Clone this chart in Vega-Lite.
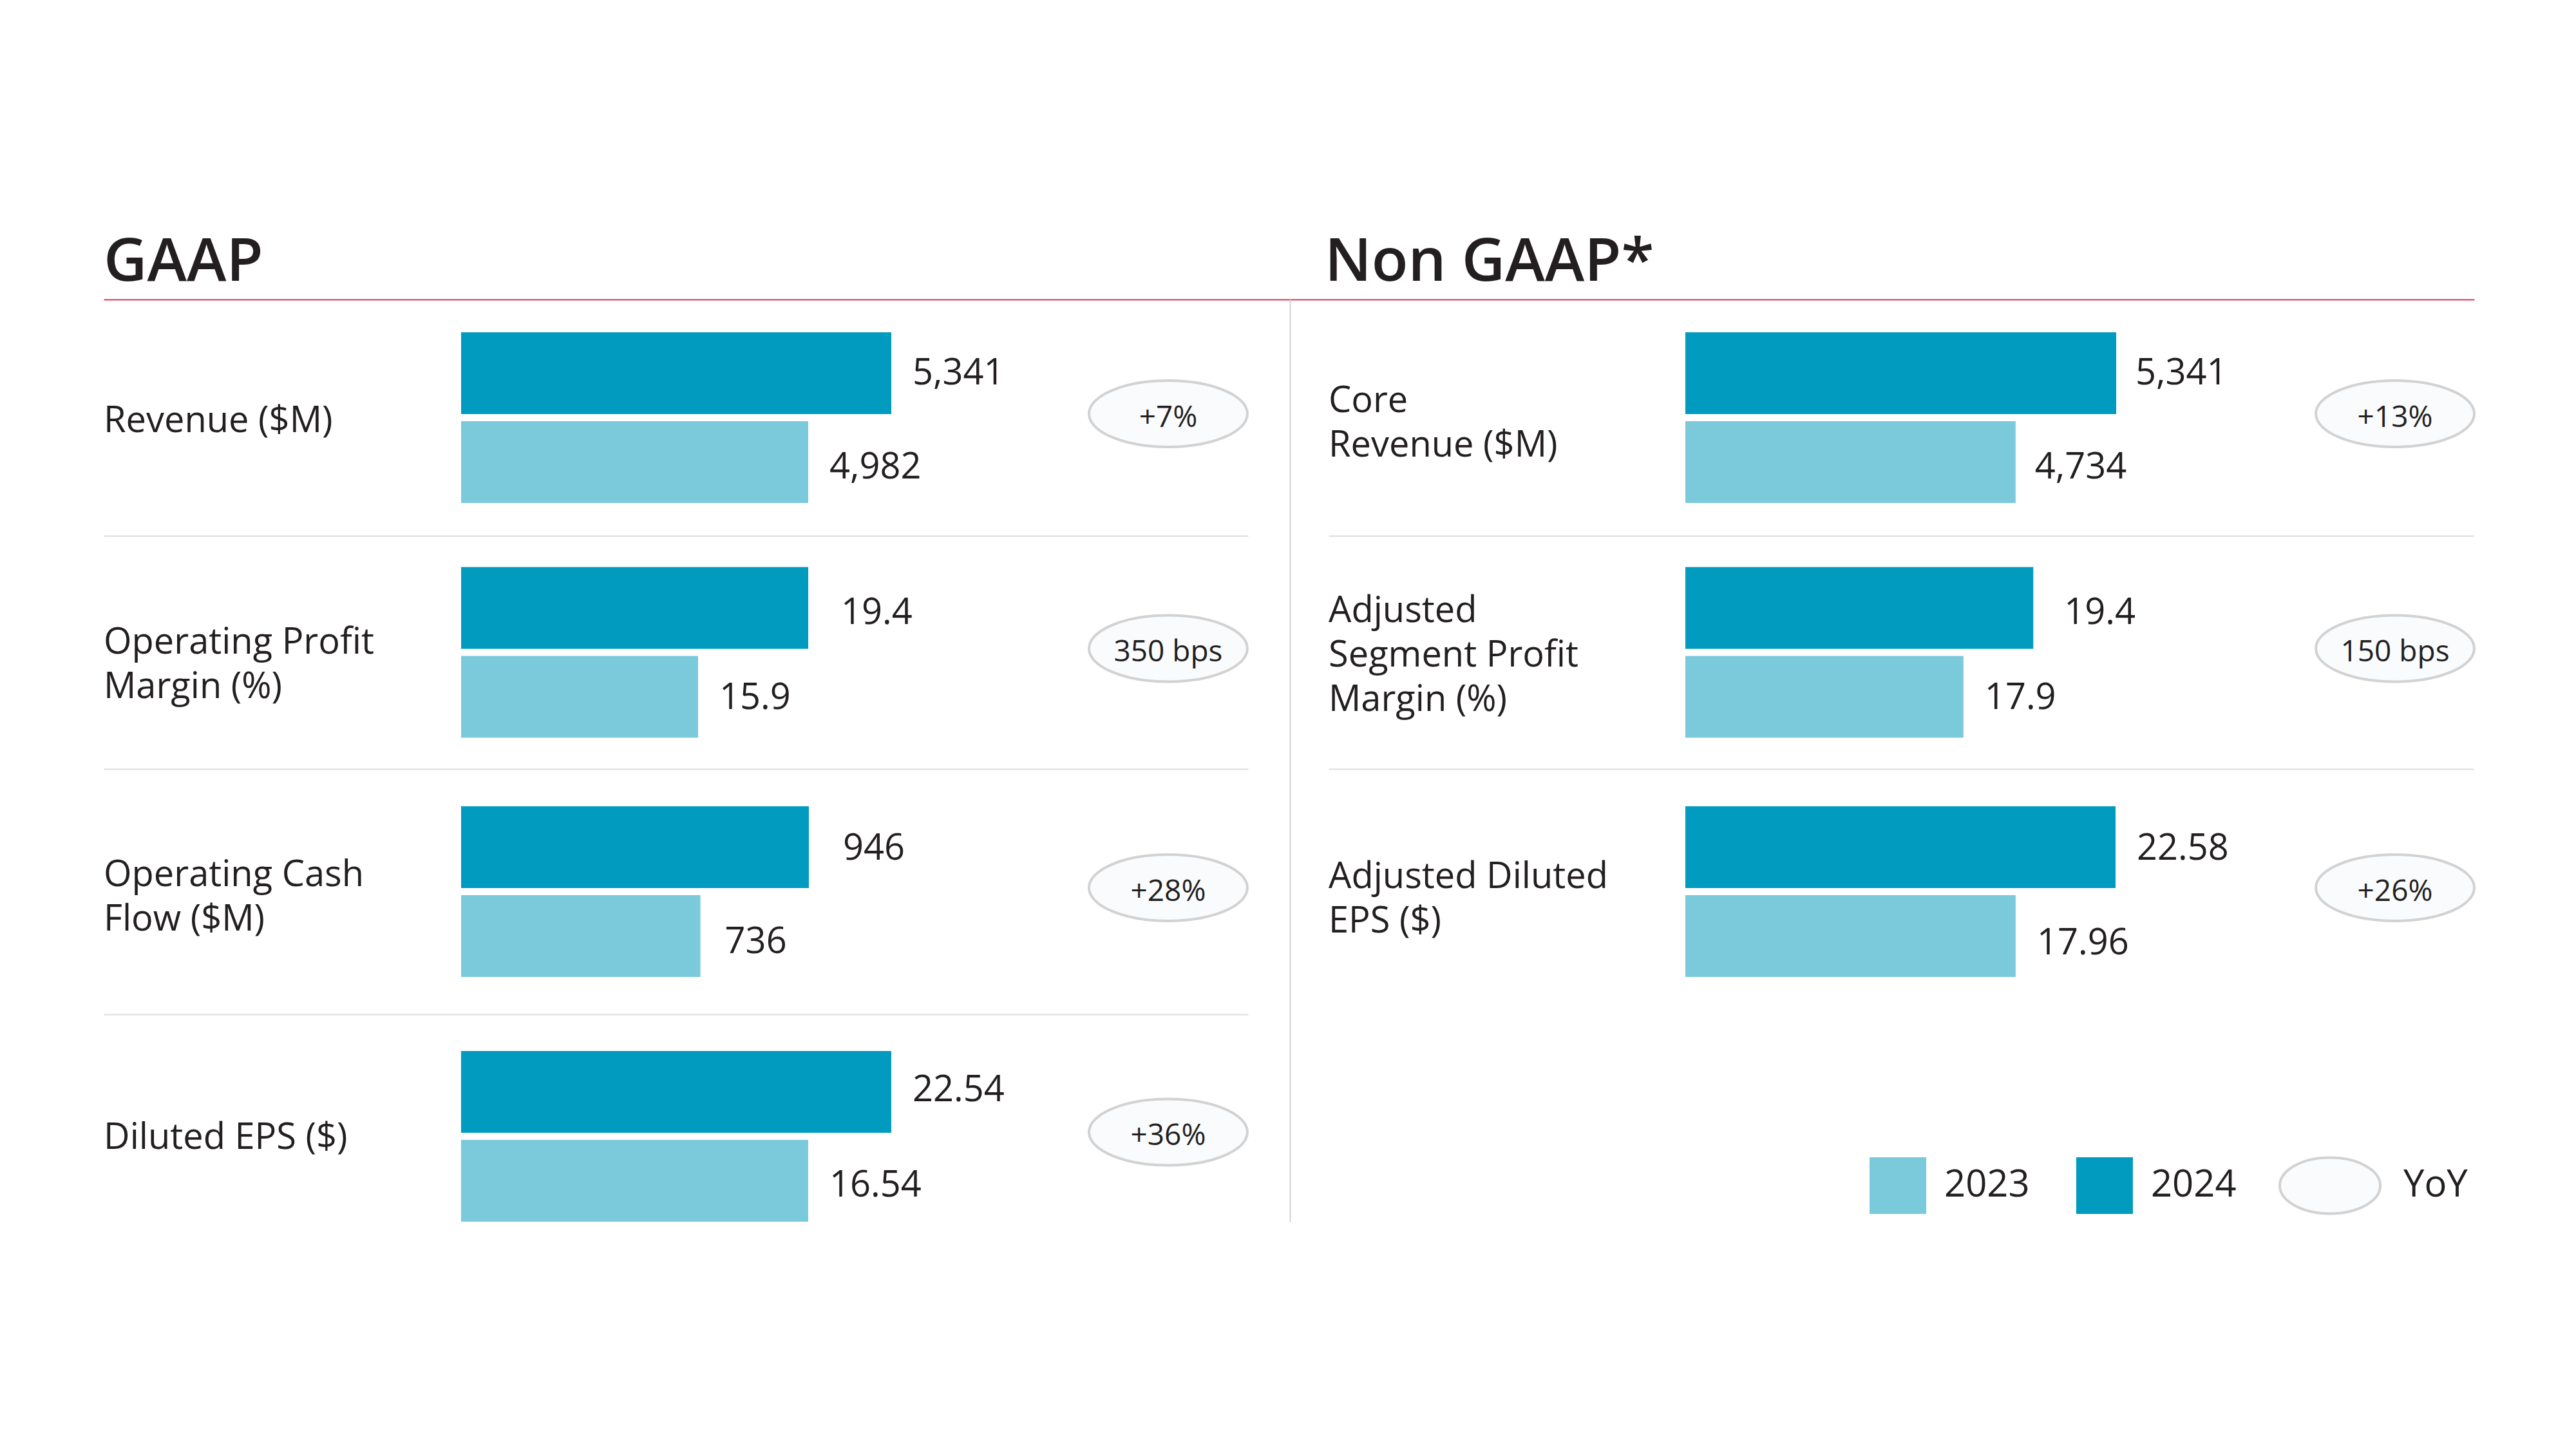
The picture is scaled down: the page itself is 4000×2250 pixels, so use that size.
{
  "$schema": "https://vega.github.io/schema/vega-lite/v6.json",
  "background": "white",
  "padding": {"left": 161, "top": 362, "right": 0, "bottom": 0},
  "config": {
    "view": {"stroke": null},
    "font": "Open Sans",
    "text": {"color": "#231F20", "font": "Open Sans"},
    "legend": {"disable": true}
  },
  "datasets": {
    "titles": [
      {"panel": "GAAP", "title": "GAAP"},
      {"panel": "Non GAAP", "title": "Non GAAP*"}
    ],
    "bars": [
      {"metric": "rev", "year": "2024", "value": 5341},
      {"metric": "rev", "year": "2023", "value": 4982},
      {"metric": "opm", "year": "2024", "value": 19.4},
      {"metric": "opm", "year": "2023", "value": 15.9},
      {"metric": "ocf", "year": "2024", "value": 946},
      {"metric": "ocf", "year": "2023", "value": 736},
      {"metric": "eps", "year": "2024", "value": 22.54},
      {"metric": "eps", "year": "2023", "value": 16.54},
      {"metric": "corerev", "year": "2024", "value": 5341},
      {"metric": "corerev", "year": "2023", "value": 4734},
      {"metric": "asm", "year": "2024", "value": 19.4},
      {"metric": "asm", "year": "2023", "value": 17.9},
      {"metric": "adeps", "year": "2024", "value": 22.58},
      {"metric": "adeps", "year": "2023", "value": 17.96}
    ],
    "metrics": [
      {"metric": "rev", "panel": "GAAP", "label": "Revenue ($M)", "yoy": "+7%"},
      {"metric": "opm", "panel": "GAAP", "label": "Operating Profit\nMargin (%)", "yoy": "350 bps"},
      {"metric": "ocf", "panel": "GAAP", "label": "Operating Cash\nFlow ($M)", "yoy": "+28%"},
      {"metric": "eps", "panel": "GAAP", "label": "Diluted EPS ($)", "yoy": "+36%"},
      {"metric": "corerev", "panel": "Non GAAP", "label": "Core\nRevenue ($M)", "yoy": "+13%"},
      {"metric": "asm", "panel": "Non GAAP", "label": "Adjusted\nSegment Profit\nMargin (%)", "yoy": "150 bps"},
      {"metric": "adeps", "panel": "Non GAAP", "label": "Adjusted Diluted\nEPS ($)", "yoy": "+26%"}
    ],
    "legend": [
      {"item": "2023"},
      {"item": "2024"},
      {"item": "YoY"}
    ]
  },
  "spacing": 0,
  "vconcat": [
    {
      "width": 3681,
      "height": 58,
      "data": {"name": "titles"},
      "mark": {"type": "text", "align": "left", "baseline": "alphabetic", "fontSize": 93, "fontWeight": 600, "color": "#231F20"},
      "encoding": {
        "x": {"field": "panel", "type": "nominal", "bandPosition": 0,
              "scale": {"type": "band", "domain": ["GAAP", "Non GAAP"], "paddingInner": 0.0585, "paddingOuter": 0},
              "axis": {"orient": "bottom", "domain": true, "domainColor": "#DC3A55", "domainWidth": 2, "ticks": false, "labels": false, "title": null, "grid": false}},
        "text": {"field": "title", "type": "nominal"}
      }
    },
    {
      "spacing": 60,
      "resolve": {"scale": {"x": "independent", "y": "independent"}},
      "hconcat": [
        {
          "spacing": 0,
          "resolve": {"scale": {"x": "independent", "y": "independent"}},
          "vconcat": [
            {
              "width": 1777, "height": 367,
              "layer": [
                {"data": {"name": "bars"}, "transform": [{"filter": "datum.metric === 'rev'"}],
                 "encoding": {
                   "y": {"field": "year", "type": "nominal", "sort": ["2024", "2023"], "scale": {"paddingInner": 0.08, "paddingOuter": 0.37},
                         "axis": {"orient": "right", "offset": 65, "domain": true, "domainColor": "#D3D3D3", "domainWidth": 2, "ticks": false, "labels": false, "title": null, "grid": false}},
                   "x": {"field": "value", "type": "quantitative", "scale": {"domain": [1937.5, 6882.8], "nice": false, "zero": false}, "axis": null}
                 },
                 "layer": [
                   {"mark": {"type": "bar"}, "encoding": {"x2": {"datum": 3482}, "color": {"field": "year", "type": "nominal", "scale": {"domain": ["2023", "2024"], "range": ["#7BCADC", "#019BBF"]}, "legend": null}}},
                   {"mark": {"type": "text", "align": "left", "baseline": "middle", "dx": 33, "dy": {"expr": "datum.year === '2023' ? 9 : 0"}, "fontSize": 56}, "encoding": {"text": {"field": "value", "type": "quantitative", "format": ","}}}
                 ]},
                {"data": {"name": "metrics"}, "transform": [{"filter": "datum.metric === 'rev'"}],
                 "layer": [
                   {"mark": {"type": "text", "align": "left", "baseline": "middle", "fontSize": 56, "lineHeight": 69, "lineBreak": "\n", "dy": 5},
                    "encoding": {"x": {"datum": 0, "type": "quantitative", "scale": {"domain": [0, 1], "nice": false, "zero": false},
                                       "axis": {"orient": "bottom", "domain": true, "domainColor": "#DCDCDC", "domainWidth": 2, "ticks": false, "labels": false, "title": null, "grid": false}},
                                 "text": {"field": "label", "type": "nominal"}}},
                   {"mark": {"type": "point", "shape": "M-1,0A1,0.419,0,1,0,1,0A1,0.419,0,1,0,-1,0Z", "size": 60516, "filled": true, "fill": "#FAFBFD", "stroke": "#D2D2D2", "strokeWidth": 4, "opacity": 1, "yOffset": -6},
                    "encoding": {"x": {"datum": 0.9302, "type": "quantitative"}}},
                   {"mark": {"type": "text", "align": "center", "baseline": "middle", "fontSize": 46},
                    "encoding": {"x": {"datum": 0.9302, "type": "quantitative"}, "text": {"field": "yoy", "type": "nominal"}}}
                 ]}
              ],
              "resolve": {"scale": {"x": "independent"}, "axis": {"x": "independent"}}
            },
            {
              "width": 1777, "height": 362,
              "layer": [
                {"data": {"name": "bars"}, "transform": [{"filter": "datum.metric === 'opm'"}],
                 "encoding": {
                   "y": {"field": "year", "type": "nominal", "sort": ["2024", "2023"], "scale": {"paddingInner": 0.08, "paddingOuter": 0.352},
                         "axis": {"orient": "right", "offset": 65, "domain": true, "domainColor": "#D3D3D3", "domainWidth": 2, "ticks": false, "labels": false, "title": null, "grid": false}},
                   "x": {"field": "value", "type": "quantitative", "scale": {"domain": [-2.992, 33.379], "nice": false, "zero": false}, "axis": null}
                 },
                 "layer": [
                   {"mark": {"type": "bar"}, "encoding": {"x2": {"datum": 8.368}, "color": {"field": "year", "type": "nominal", "scale": {"domain": ["2023", "2024"], "range": ["#7BCADC", "#019BBF"]}, "legend": null}}},
                   {"mark": {"type": "text", "align": "left", "baseline": "middle", "dx": {"expr": "datum.year === '2024' ? 51 : 33"}, "dy": {"expr": "datum.year === '2023' ? 2 : 8"}, "fontSize": 56}, "encoding": {"text": {"field": "value", "type": "quantitative", "format": ".1f"}}}
                 ]},
                {"data": {"name": "metrics"}, "transform": [{"filter": "datum.metric === 'opm'"}],
                 "layer": [
                   {"mark": {"type": "text", "align": "left", "baseline": "middle", "fontSize": 56, "lineHeight": 69, "lineBreak": "\n", "dy": -15},
                    "encoding": {"x": {"datum": 0, "type": "quantitative", "scale": {"domain": [0, 1], "nice": false, "zero": false},
                                       "axis": {"orient": "bottom", "domain": true, "domainColor": "#DCDCDC", "domainWidth": 2, "ticks": false, "labels": false, "title": null, "grid": false}},
                                 "text": {"field": "label", "type": "nominal"}}},
                   {"mark": {"type": "point", "shape": "M-1,0A1,0.419,0,1,0,1,0A1,0.419,0,1,0,-1,0Z", "size": 60516, "filled": true, "fill": "#FAFBFD", "stroke": "#D2D2D2", "strokeWidth": 4, "opacity": 1, "yOffset": -6},
                    "encoding": {"x": {"datum": 0.9302, "type": "quantitative"}}},
                   {"mark": {"type": "text", "align": "center", "baseline": "middle", "fontSize": 46},
                    "encoding": {"x": {"datum": 0.9302, "type": "quantitative"}, "text": {"field": "yoy", "type": "nominal"}}}
                 ]}
              ],
              "resolve": {"scale": {"x": "independent"}, "axis": {"x": "independent"}}
            },
            {
              "width": 1777, "height": 381,
              "layer": [
                {"data": {"name": "bars"}, "transform": [{"filter": "datum.metric === 'ocf'"}],
                 "encoding": {
                   "y": {"field": "year", "type": "nominal", "sort": ["2024", "2023"], "scale": {"paddingInner": 0.08, "paddingOuter": 0.42},
                         "axis": {"orient": "right", "offset": 65, "domain": true, "domainColor": "#D3D3D3", "domainWidth": 2, "ticks": false, "labels": false, "title": null, "grid": false}},
                   "x": {"field": "value", "type": "quantitative", "scale": {"domain": [-419.5, 1796.5], "nice": false, "zero": false}, "axis": null}
                 },
                 "layer": [
                   {"mark": {"type": "bar"}, "encoding": {"x2": {"datum": 272.6}, "color": {"field": "year", "type": "nominal", "scale": {"domain": ["2023", "2024"], "range": ["#7BCADC", "#019BBF"]}, "legend": null}}},
                   {"mark": {"type": "text", "align": "left", "baseline": "middle", "dx": {"expr": "datum.year === '2024' ? 53 : 38"}, "dy": {"expr": "datum.year === '2023' ? 9 : 3"}, "fontSize": 56}, "encoding": {"text": {"field": "value", "type": "quantitative", "format": ","}}}
                 ]},
                {"data": {"name": "metrics"}, "transform": [{"filter": "datum.metric === 'ocf'"}],
                 "layer": [
                   {"mark": {"type": "text", "align": "left", "baseline": "middle", "fontSize": 56, "lineHeight": 69, "lineBreak": "\n", "dy": -26},
                    "encoding": {"x": {"datum": 0, "type": "quantitative", "scale": {"domain": [0, 1], "nice": false, "zero": false},
                                       "axis": {"orient": "bottom", "domain": true, "domainColor": "#DCDCDC", "domainWidth": 2, "ticks": false, "labels": false, "title": null, "grid": false}},
                                 "text": {"field": "label", "type": "nominal"}}},
                   {"mark": {"type": "point", "shape": "M-1,0A1,0.419,0,1,0,1,0A1,0.419,0,1,0,-1,0Z", "size": 60516, "filled": true, "fill": "#FAFBFD", "stroke": "#D2D2D2", "strokeWidth": 4, "opacity": 1, "yOffset": -6},
                    "encoding": {"x": {"datum": 0.9302, "type": "quantitative"}}},
                   {"mark": {"type": "text", "align": "center", "baseline": "middle", "fontSize": 46},
                    "encoding": {"x": {"datum": 0.9302, "type": "quantitative"}, "text": {"field": "yoy", "type": "nominal"}}}
                 ]}
              ],
              "resolve": {"scale": {"x": "independent"}, "axis": {"x": "independent"}}
            },
            {
              "width": 1777, "height": 322,
              "layer": [
                {"data": {"name": "bars"}, "transform": [{"filter": "datum.metric === 'eps'"}],
                 "encoding": {
                   "y": {"field": "year", "type": "nominal", "sort": ["2024", "2023"], "scale": {"paddingInner": 0.08, "paddingOuter": 0.207, "align": 1},
                         "axis": {"orient": "right", "offset": 65, "domain": true, "domainColor": "#D3D3D3", "domainWidth": 2, "ticks": false, "labels": false, "title": null, "grid": false}},
                   "x": {"field": "value", "type": "quantitative", "scale": {"domain": [-34.34, 48.31], "nice": false, "zero": false}, "axis": null}
                 },
                 "layer": [
                   {"mark": {"type": "bar"}, "encoding": {"x2": {"datum": -8.53}, "color": {"field": "year", "type": "nominal", "scale": {"domain": ["2023", "2024"], "range": ["#7BCADC", "#019BBF"]}, "legend": null}}},
                   {"mark": {"type": "text", "align": "left", "baseline": "middle", "dx": 33, "dy": {"expr": "datum.year === '2023' ? 7 : -3"}, "fontSize": 56}, "encoding": {"text": {"field": "value", "type": "quantitative", "format": ".2f"}}}
                 ]},
                {"data": {"name": "metrics"}, "transform": [{"filter": "datum.metric === 'eps'"}],
                 "layer": [
                   {"mark": {"type": "text", "align": "left", "baseline": "middle", "fontSize": 56, "lineHeight": 69, "lineBreak": "\n", "dy": 31},
                    "encoding": {"x": {"datum": 0, "type": "quantitative", "scale": {"domain": [0, 1], "nice": false, "zero": false}, "axis": null},
                                 "text": {"field": "label", "type": "nominal"}}},
                   {"mark": {"type": "point", "shape": "M-1,0A1,0.419,0,1,0,1,0A1,0.419,0,1,0,-1,0Z", "size": 60516, "filled": true, "fill": "#FAFBFD", "stroke": "#D2D2D2", "strokeWidth": 4, "opacity": 1, "yOffset": 22},
                    "encoding": {"x": {"datum": 0.9302, "type": "quantitative"}}},
                   {"mark": {"type": "text", "align": "center", "baseline": "middle", "fontSize": 46, "dy": 28},
                    "encoding": {"x": {"datum": 0.9302, "type": "quantitative"}, "text": {"field": "yoy", "type": "nominal"}}}
                 ]}
              ],
              "resolve": {"scale": {"x": "independent"}, "axis": {"x": "independent"}}
            }
          ]
        },
        {
          "spacing": 0,
          "resolve": {"scale": {"x": "independent", "y": "independent"}},
          "vconcat": [
            {
              "width": 1778, "height": 367,
              "layer": [
                {"data": {"name": "bars"}, "transform": [{"filter": "datum.metric === 'corerev'"}],
                 "encoding": {
                   "y": {"field": "year", "type": "nominal", "sort": ["2024", "2023"], "scale": {"paddingInner": 0.08, "paddingOuter": 0.37}, "axis": null},
                   "x": {"field": "value", "type": "quantitative", "scale": {"domain": [588.3, 7497.7], "nice": false, "zero": false}, "axis": null}
                 },
                 "layer": [
                   {"mark": {"type": "bar"}, "encoding": {"x2": {"datum": 2741.2}, "color": {"field": "year", "type": "nominal", "scale": {"domain": ["2023", "2024"], "range": ["#7BCADC", "#019BBF"]}, "legend": null}}},
                   {"mark": {"type": "text", "align": "left", "baseline": "middle", "dx": 30, "dy": {"expr": "datum.year === '2023' ? 9 : 0"}, "fontSize": 56}, "encoding": {"text": {"field": "value", "type": "quantitative", "format": ","}}}
                 ]},
                {"data": {"name": "metrics"}, "transform": [{"filter": "datum.metric === 'corerev'"}],
                 "layer": [
                   {"mark": {"type": "text", "align": "left", "baseline": "middle", "fontSize": 56, "lineHeight": 69, "lineBreak": "\n", "dy": -26},
                    "encoding": {"x": {"datum": 0, "type": "quantitative", "scale": {"domain": [0, 1], "nice": false, "zero": false},
                                       "axis": {"orient": "bottom", "domain": true, "domainColor": "#DCDCDC", "domainWidth": 2, "ticks": false, "labels": false, "title": null, "grid": false}},
                                 "text": {"field": "label", "type": "nominal"}}},
                   {"mark": {"type": "point", "shape": "M-1,0A1,0.419,0,1,0,1,0A1,0.419,0,1,0,-1,0Z", "size": 60516, "filled": true, "fill": "#FAFBFD", "stroke": "#D2D2D2", "strokeWidth": 4, "opacity": 1, "yOffset": -6},
                    "encoding": {"x": {"datum": 0.9314, "type": "quantitative"}}},
                   {"mark": {"type": "text", "align": "center", "baseline": "middle", "fontSize": 46},
                    "encoding": {"x": {"datum": 0.9314, "type": "quantitative"}, "text": {"field": "yoy", "type": "nominal"}}}
                 ]}
              ],
              "resolve": {"scale": {"x": "independent"}, "axis": {"x": "independent"}}
            },
            {
              "width": 1778, "height": 362,
              "layer": [
                {"data": {"name": "bars"}, "transform": [{"filter": "datum.metric === 'asm'"}],
                 "encoding": {
                   "y": {"field": "year", "type": "nominal", "sort": ["2024", "2023"], "scale": {"paddingInner": 0.08, "paddingOuter": 0.352}, "axis": null},
                   "x": {"field": "value", "type": "quantitative", "scale": {"domain": [4.258, 28.861], "nice": false, "zero": false}, "axis": null}
                 },
                 "layer": [
                   {"mark": {"type": "bar"}, "encoding": {"x2": {"datum": 11.924}, "color": {"field": "year", "type": "nominal", "scale": {"domain": ["2023", "2024"], "range": ["#7BCADC", "#019BBF"]}, "legend": null}}},
                   {"mark": {"type": "text", "align": "left", "baseline": "middle", "dx": {"expr": "datum.year === '2024' ? 48 : 33"}, "dy": {"expr": "datum.year === '2023' ? 2 : 8"}, "fontSize": 56}, "encoding": {"text": {"field": "value", "type": "quantitative", "format": ".1f"}}}
                 ]},
                {"data": {"name": "metrics"}, "transform": [{"filter": "datum.metric === 'asm'"}],
                 "layer": [
                   {"mark": {"type": "text", "align": "left", "baseline": "middle", "fontSize": 56, "lineHeight": 69, "lineBreak": "\n", "dy": -64},
                    "encoding": {"x": {"datum": 0, "type": "quantitative", "scale": {"domain": [0, 1], "nice": false, "zero": false},
                                       "axis": {"orient": "bottom", "domain": true, "domainColor": "#DCDCDC", "domainWidth": 2, "ticks": false, "labels": false, "title": null, "grid": false}},
                                 "text": {"field": "label", "type": "nominal"}}},
                   {"mark": {"type": "point", "shape": "M-1,0A1,0.419,0,1,0,1,0A1,0.419,0,1,0,-1,0Z", "size": 60516, "filled": true, "fill": "#FAFBFD", "stroke": "#D2D2D2", "strokeWidth": 4, "opacity": 1, "yOffset": -6},
                    "encoding": {"x": {"datum": 0.9314, "type": "quantitative"}}},
                   {"mark": {"type": "text", "align": "center", "baseline": "middle", "fontSize": 46},
                    "encoding": {"x": {"datum": 0.9314, "type": "quantitative"}, "text": {"field": "yoy", "type": "nominal"}}}
                 ]}
              ],
              "resolve": {"scale": {"x": "independent"}, "axis": {"x": "independent"}}
            },
            {
              "width": 1778, "height": 381,
              "layer": [
                {"data": {"name": "bars"}, "transform": [{"filter": "datum.metric === 'adeps'"}],
                 "encoding": {
                   "y": {"field": "year", "type": "nominal", "sort": ["2024", "2023"], "scale": {"paddingInner": 0.08, "paddingOuter": 0.42}, "axis": null},
                   "x": {"field": "value", "type": "quantitative", "scale": {"domain": [-13.82, 39.142], "nice": false, "zero": false}, "axis": null}
                 },
                 "layer": [
                   {"mark": {"type": "bar"}, "encoding": {"x2": {"datum": 2.682}, "color": {"field": "year", "type": "nominal", "scale": {"domain": ["2023", "2024"], "range": ["#7BCADC", "#019BBF"]}, "legend": null}}},
                   {"mark": {"type": "text", "align": "left", "baseline": "middle", "dx": 33, "dy": {"expr": "datum.year === '2023' ? 11 : 3"}, "fontSize": 56}, "encoding": {"text": {"field": "value", "type": "quantitative", "format": ".2f"}}}
                 ]},
                {"data": {"name": "metrics"}, "transform": [{"filter": "datum.metric === 'adeps'"}],
                 "layer": [
                   {"mark": {"type": "text", "align": "left", "baseline": "middle", "fontSize": 56, "lineHeight": 69, "lineBreak": "\n", "dy": -23},
                    "encoding": {"x": {"datum": 0, "type": "quantitative", "scale": {"domain": [0, 1], "nice": false, "zero": false}, "axis": null},
                                 "text": {"field": "label", "type": "nominal"}}},
                   {"mark": {"type": "point", "shape": "M-1,0A1,0.419,0,1,0,1,0A1,0.419,0,1,0,-1,0Z", "size": 60516, "filled": true, "fill": "#FAFBFD", "stroke": "#D2D2D2", "strokeWidth": 4, "opacity": 1, "yOffset": -6},
                    "encoding": {"x": {"datum": 0.9314, "type": "quantitative"}}},
                   {"mark": {"type": "text", "align": "center", "baseline": "middle", "fontSize": 46},
                    "encoding": {"x": {"datum": 0.9314, "type": "quantitative"}, "text": {"field": "yoy", "type": "nominal"}}}
                 ]}
              ],
              "resolve": {"scale": {"x": "independent"}, "axis": {"x": "independent"}}
            },
            {
              "width": 1778, "height": 532,
              "data": {"name": "legend"},
              "layer": [
                {"transform": [{"filter": "datum.item === '2023'"}],
                 "layer": [
                   {"mark": {"type": "point", "shape": "square", "filled": true, "size": 7744, "opacity": 1},
                    "encoding": {"x": {"datum": 0.4972, "type": "quantitative", "scale": {"domain": [0, 1], "nice": false, "zero": false}, "axis": null},
                                 "color": {"field": "item", "type": "nominal", "scale": {"domain": ["2023", "2024"], "range": ["#7BCADC", "#019BBF"]}, "legend": null}}},
                   {"mark": {"type": "text", "align": "left", "baseline": "middle", "dx": 72, "fontSize": 58},
                    "encoding": {"x": {"datum": 0.4972, "type": "quantitative"}, "text": {"field": "item", "type": "nominal"}}}
                 ]},
                {"transform": [{"filter": "datum.item === '2024'"}],
                 "layer": [
                   {"mark": {"type": "point", "shape": "square", "filled": true, "size": 7744, "opacity": 1},
                    "encoding": {"x": {"datum": 0.6777, "type": "quantitative"},
                                 "color": {"field": "item", "type": "nominal", "scale": {"domain": ["2023", "2024"], "range": ["#7BCADC", "#019BBF"]}, "legend": null}}},
                   {"mark": {"type": "text", "align": "left", "baseline": "middle", "dx": 72, "fontSize": 58},
                    "encoding": {"x": {"datum": 0.6777, "type": "quantitative"}, "text": {"field": "item", "type": "nominal"}}}
                 ]},
                {"transform": [{"filter": "datum.item === 'YoY'"}],
                 "layer": [
                   {"mark": {"type": "point", "shape": "M-1,0A1,0.557,0,1,0,1,0A1,0.557,0,1,0,-1,0Z", "size": 24336, "filled": true, "fill": "#FAFBFD", "stroke": "#D2D2D2", "strokeWidth": 4, "opacity": 1},
                    "encoding": {"x": {"datum": 0.8746, "type": "quantitative"}}},
                   {"mark": {"type": "text", "align": "left", "baseline": "middle", "dx": 114, "fontSize": 58},
                    "encoding": {"x": {"datum": 0.8746, "type": "quantitative"}, "text": {"field": "item", "type": "nominal"}}}
                 ]}
              ]
            }
          ]
        }
      ]
    }
  ]
}
